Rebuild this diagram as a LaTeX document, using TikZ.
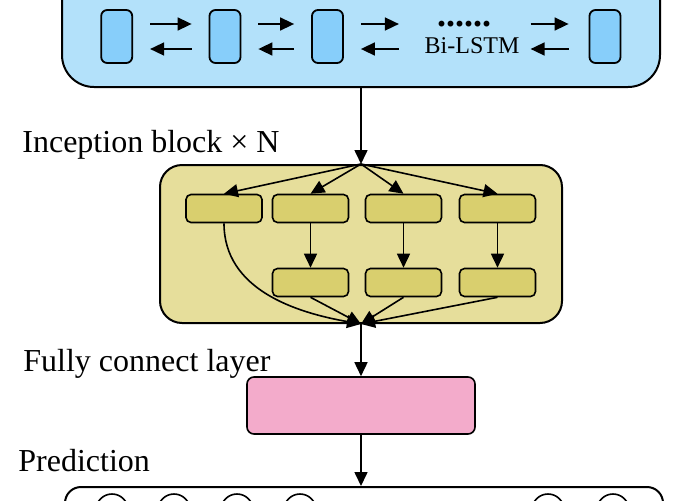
\documentclass[tikz,border=0pt]{standalone}
\usepackage{fontspec}
\setmainfont{Liberation Serif}
\usetikzlibrary{calc,arrows.meta,positioning}
\definecolor{lstmbg}{HTML}{B3E1FA}
\definecolor{cellx}{HTML}{87CEFA}
\definecolor{incbg}{HTML}{E6DE9B}
\definecolor{incx}{HTML}{D9CF6E}
\definecolor{fcx}{HTML}{F3ABCB}
\tikzset{
  ar/.style={-{Triangle[length=7pt,width=6.5pt]},line width=0.8pt,black},
  outer/.style={draw,line width=1pt,inner sep=0pt},
  cell/.style={draw,line width=0.9pt,fill=cellx,rounded corners=3pt,minimum width=15.5pt,minimum height=26.5pt,inner sep=0pt},
  sub/.style={draw,line width=0.8pt,fill=incx,rounded corners=2.5pt,minimum width=38pt,minimum height=14pt,inner sep=0pt},
  lbl/.style={font=\fontsize{16}{19}\selectfont,anchor=base west,inner sep=0pt},
  unit/.style={draw,line width=0.8pt,circle,minimum size=16pt,inner sep=0pt}
}
\begin{document}
\begin{tikzpicture}[x=0.5pt,y=0.5pt]
\clip (0,0) rectangle (680,500);
% Bi-LSTM
\node[outer,fill=lstmbg,rounded corners=16pt,minimum width=299pt,minimum height=70pt] (lstm) at (361,483) {};
\node[cell] (c1) at (116.7,463.5) {};
\node[cell] (c2) at (225,463.5) {};
\node[cell] (c3) at (327.5,463.5) {};
\node[cell] (c4) at (605,463.5) {};
\foreach \a/\b in {c1/c2,c2/c3}{
  \draw[ar] ($(\a.east)+(17,12.5)$) -- ($(\b.west)+(-17,12.5)$);
  \draw[ar] ($(\b.west)+(-17,-12.5)$) -- ($(\a.east)+(17,-12.5)$);
}
\draw[ar] ($(c3.east)+(17,12.5)$) -- ($(c3.east)+(55,12.5)$);
\draw[ar] ($(c3.east)+(55,-12.5)$) -- ($(c3.east)+(17,-12.5)$);
\draw[ar] ($(c4.west)+(-58,12.5)$) -- ($(c4.west)+(-20,12.5)$);
\draw[ar] ($(c4.west)+(-20,-12.5)$) -- ($(c4.west)+(-58,-12.5)$);
\node[font=\fontsize{18}{20}\selectfont\bfseries,anchor=base,inner sep=0pt] (dots) at (464,474) {......};
\node[font=\fontsize{12}{14}\selectfont,anchor=base,inner sep=0pt] (bilstm) at (472,447) {Bi-LSTM};
% inception block
\node[lbl] (inclbl) at (22,348) {Inception block × N};
\node[outer,fill=incbg,rounded corners=11pt,minimum width=201pt,minimum height=79pt] (incep) at (361,256) {};
\node[sub] (ia) at (224,291.5) {};
\node[sub] (ib) at (310.5,291.5) {};
\node[sub] (ic) at (403.5,291.5) {};
\node[sub] (id) at (497.5,291.5) {};
\node[sub] (ib2) at (310.5,217.5) {};
\node[sub] (ic2) at (403.5,217.5) {};
\node[sub] (id2) at (497.5,217.5) {};
\draw[ar] (lstm.south) -- (incep.north);
\foreach \s in {ia,ib,ic,id} \draw[ar] (incep.north) -- (\s.north);
\foreach \s/\t in {ib/ib2,ic/ic2,id/id2} \draw[ar] (\s) -- (\t);
\draw[ar] (ia.south) to[out=-90,in=170] (incep.south);
\foreach \s in {ib2,ic2,id2} \draw[ar] (\s.south) -- (incep.south);
% fully connected + prediction
\node[lbl] (fclbl) at (23,129) {Fully connect layer};
\node[draw,line width=0.8pt,fill=fcx,rounded corners=3.5pt,minimum width=114pt,minimum height=28.5pt,inner sep=0pt] (fc) at (361,94.5) {};
\draw[ar] (incep.south) -- (fc.north);
\node[lbl] (predlbl) at (18,29) {Prediction};
\node[outer,fill=white,rounded corners=8pt,minimum width=299pt,minimum height=60pt] (pred) at (364,-47) {};
\draw[ar] (fc.south) -- (fc.south |- pred.north);
\foreach \i/\x in {1/112,2/174,3/237,4/300,5/548,6/613}
  \node[unit] (o\i) at (\x,-10) {};
\end{tikzpicture}
\end{document}
